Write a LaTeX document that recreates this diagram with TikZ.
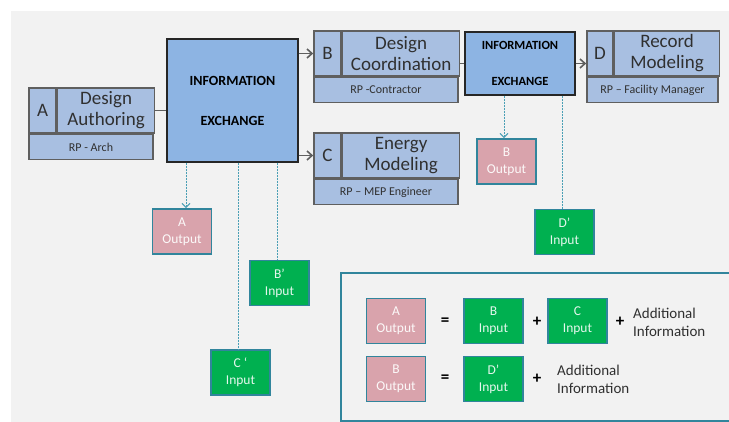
\documentclass[tikz,border=0pt]{standalone}
\usepackage{fontspec}
\setmainfont{Carlito}
\usetikzlibrary{arrows.meta,positioning}
\definecolor{bggray}{HTML}{F2F2F2}
\definecolor{procfill}{HTML}{A8BFE1}
\definecolor{procline}{HTML}{5F5F5F}
\definecolor{xfill}{HTML}{8DB4E3}
\definecolor{xline}{HTML}{262626}
\definecolor{pinkfill}{HTML}{D9A3AC}
\definecolor{greenfill}{HTML}{00B050}
\definecolor{tealline}{HTML}{31859C}
\definecolor{dashteal}{HTML}{4A9FB5}
\definecolor{darktext}{HTML}{303030}

\begin{document}
\begin{tikzpicture}[x=1pt, y=-1pt,
    proc/.style={draw=procline, line width=1.6pt, fill=procfill, inner sep=1pt, align=center, text=darktext},
    letter/.style={proc, minimum width=27pt, minimum height=45pt, font=\fontsize{19}{21}\selectfont},
    title/.style={proc, minimum height=45pt, font=\fontsize{19}{21}\selectfont},
    role/.style={proc, minimum height=25pt, font=\fontsize{12}{14}\selectfont},
    xchg/.style={draw=xline, line width=1.3pt, fill=xfill, align=center, text=black},
    outbox/.style={draw=tealline, line width=1.8pt, fill=pinkfill, minimum width=59pt, minimum height=45pt, inner sep=1pt, align=center, text=white!93!pinkfill, font=\fontsize{13.5}{17}\selectfont},
    inbox/.style={outbox, fill=greenfill, text=white!90!greenfill},
    op/.style={font=\bfseries\fontsize{17}{17}\selectfont, text=black, inner sep=0pt},
    note/.style={align=left, anchor=west, inner sep=0pt, text=darktext, font=\fontsize{15}{18}\selectfont},
    arr/.style={-{Straight Barb[length=5pt, width=9pt]}, line width=1.6pt, draw=procline},
    link/.style={line width=1.6pt, draw=procline},
    dlink/.style={dashteal, line width=1pt, dash pattern=on 2pt off 1pt},
    darr/.style={dlink, -{Straight Barb[length=4pt, width=8pt]}}
]
\useasboundingbox (0,0) rectangle (729,422);
\fill[bggray] (11,11) rectangle (729,422);

\node[letter] (Alet) at (42.5,110.5) {A};
\node[title, minimum width=97pt, right=0pt of Alet] (Atit) {Design\\Authoring};
\node[role, minimum width=124pt, anchor=north west] (Asub) at (Alet.south west) {RP - Arch};

\node[letter] (Blet) at (327.5,53.5) {B};
\node[title, minimum width=117pt, right=0pt of Blet] (Btit) {Design\\Coordination};
\node[role, minimum width=144pt, anchor=north west] (Bsub) at (Blet.south west) {RP -Contractor};

\node[letter] (Clet) at (327.5,155.5) {C};
\node[title, minimum width=117pt, right=0pt of Clet] (Ctit) {Energy\\Modeling};
\node[role, minimum width=144pt, anchor=north west] (Csub) at (Clet.south west) {RP -- MEP Engineer};

\node[letter, minimum width=26pt] (Dlet) at (600,53.5) {D};
\node[title, minimum width=105pt, right=0pt of Dlet] (Dtit) {Record\\Modeling};
\node[role, minimum width=131pt, anchor=north west] (Dsub) at (Dlet.south west) {RP -- Facility Manager};

\node[xchg, minimum width=131pt, minimum height=123pt, font=\bfseries\fontsize{14}{40}\selectfont] (ie1) at (232.5,100.5) {INFORMATION\\EXCHANGE};
\node[xchg, minimum width=110pt, minimum height=63pt, font=\bfseries\fontsize{12.5}{36}\selectfont] (ie2) at (520,63.5) {INFORMATION\\EXCHANGE};

\node[outbox] (Aout) at (182,231.5) {A\\Output};
\node[inbox] (Bpin) at (279.5,283) {B’\\Input};
\node[inbox] (Cpin) at (240.5,372.5) {C ‘\\Input};
\node[outbox] (Bout) at (506.5,161.5) {B\\Output};
\node[inbox] (Dpin) at (564.5,232) {D’\\Input};

\draw[link] (Atit.east) -- (Atit.east -| ie1.west);
\draw[arr] (ie1.east |- Btit.west) -- (Blet.west);
\draw[arr] (ie1.east |- Ctit.west) -- (Clet.west);
\draw[link] (ie2.west -| Btit.east) -- (ie2.west);
\draw[arr] (ie2.east) -- (ie2.east -| Dlet.west);

\draw[darr] ([xshift=4pt]Aout.north |- ie1.south) -- ([xshift=4pt]Aout.north);
\draw[dlink] ([xshift=-2.5pt]Cpin.north |- ie1.south) -- ([xshift=-2.5pt]Cpin.north);
\draw[dlink] ([xshift=-2.5pt]Bpin.north |- ie1.south) -- ([xshift=-2.5pt]Bpin.north);
\draw[darr] ([xshift=-2.5pt]Bout.north |- ie2.south) -- ([xshift=-2.5pt]Bout.north);
\draw[dlink] ([xshift=-2.5pt]Dpin.north |- ie2.south) -- ([xshift=-2.5pt]Dpin.north);

\draw[tealline, line width=1.8pt] (729,273) -| (341,421) -- (729,421);
\node[outbox] (lAout) at (396,321) {A\\Output};
\node[op] (eq1) at (445,322) {=};
\node[inbox] (lBin) at (493.5,321) {B\\Input};
\node[op] (plus1) at (537,322) {+};
\node[inbox] (lCin) at (577.5,321) {C\\Input};
\node[op] (plus2) at (620,322) {+};
\node[note] (add1) at (633,322) {Additional\\Information};

\node[outbox] (lBout) at (396,379) {B\\Output};
\node[op] (eq2) at (445,379) {=};
\node[inbox] (lDpin) at (493.5,379) {D’\\Input};
\node[op] (plus3) at (537,379) {+};
\node[note] (add2) at (557,379) {Additional\\Information};
\end{tikzpicture}
\end{document}
